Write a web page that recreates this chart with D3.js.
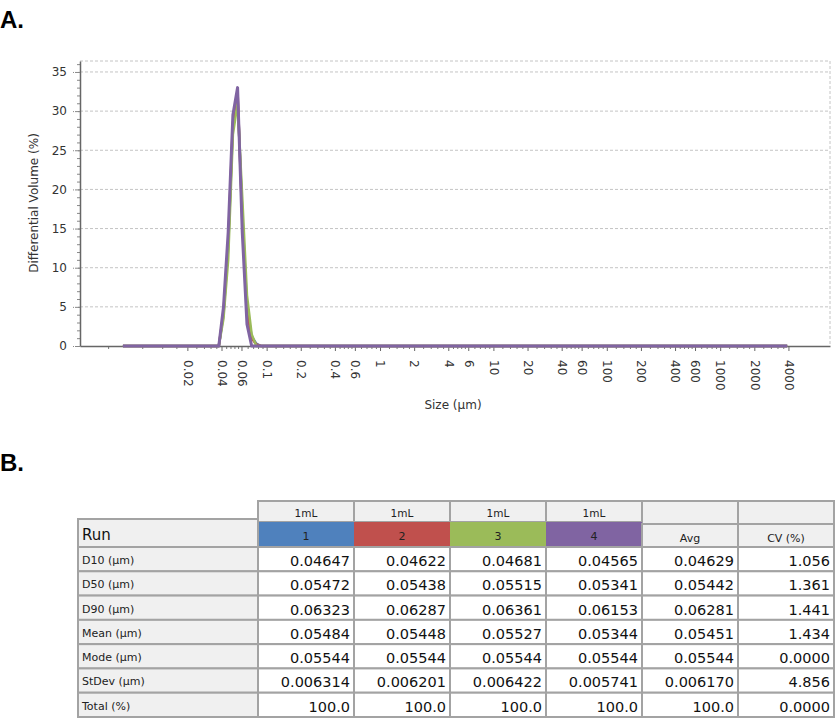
<!DOCTYPE html>
<html>
<head>
<meta charset="utf-8">
<script src="https://cdn.jsdelivr.net/npm/d3@7"></script>
<style>
  body { margin: 0; background: #fff; }
  text { font-family: "DejaVu Sans", Verdana, sans-serif; }
</style>
</head>
<body>
<script>
// size bins (µm) and differential volume (%) for each run
const sizes = [0.0054, 0.03787, 0.04165, 0.0458, 0.0504, 0.05544, 0.06098, 0.06708, 0.07379, 0.08117, 0.0893, 3900]
const run1 = [0, 0, 4.0, 12.5, 28.0, 32.0, 17.0, 5.0, 1.2, 0.3, 0, 0]
const run2 = [0, 0, 4.3, 13.0, 28.5, 32.5, 16.0, 4.5, 1.0, 0.2, 0, 0]
const run3 = [0, 0, 3.5, 11.0, 27.0, 31.0, 19.0, 6.5, 1.5, 0, 0, 0]
const run4 = [0, 0, 5.0, 14.5, 29.5, 33.0, 14.5, 2.8, 0, 0, 0, 0]
const runColors = ["#4f81bd", "#c0504d", "#9bbb59", "#8064a2"]

// axis ticks
const xLabels = [0.02, 0.04, 0.06, 0.1, 0.2, 0.4, 0.6, 1, 2, 4, 6, 10, 20, 40, 60, 100, 200, 400, 600, 1000, 2000, 4000]
const yLabels = [0, 5, 10, 15, 20, 25, 30, 35]

// table content
const tableCols = ["1", "2", "3", "4", "Avg", "CV (%)"]
const tableTop = ["1mL", "1mL", "1mL", "1mL", "", ""]
const tableRows = ["D10 (µm)", "D50 (µm)", "D90 (µm)", "Mean (µm)", "Mode (µm)", "StDev (µm)", "Total (%)"]
const d10 = ["0.04647", "0.04622", "0.04681", "0.04565", "0.04629", "1.056"]
const d50 = ["0.05472", "0.05438", "0.05515", "0.05341", "0.05442", "1.361"]
const d90 = ["0.06323", "0.06287", "0.06361", "0.06153", "0.06281", "1.441"]
const mean = ["0.05484", "0.05448", "0.05527", "0.05344", "0.05451", "1.434"]
const mode = ["0.05544", "0.05544", "0.05544", "0.05544", "0.05544", "0.0000"]
const stdev = ["0.006314", "0.006201", "0.006422", "0.005741", "0.006170", "4.856"]
const total = ["100.0", "100.0", "100.0", "100.0", "100.0", "0.0000"]
const tableValues = [d10, d50, d90, mean, mode, stdev, total]

const svg = d3.select("body")
    .append("svg")
    .attr("width", 836)
    .attr("height", 718)

// panel letters
svg.append("text").attr("x", 0).attr("y", 28).text("A.")
    .style("font-family", "Liberation Sans, Arial, sans-serif").style("font-size", "24px").style("font-weight", "bold")
svg.append("text").attr("x", 0).attr("y", 471).text("B.")
    .style("font-family", "Liberation Sans, Arial, sans-serif").style("font-size", "24px").style("font-weight", "bold")

// ---------- chart ----------
const plot = { left: 80, right: 830, top: 61, bottom: 346 }

const x = d3.scaleLog()
    .domain([0.00226, 9300])
    .range([plot.left, plot.right])
const y = d3.scaleLinear()
    .domain([0, 36.4])
    .range([plot.bottom, plot.top])

// dashed grid + top/right frame
svg.append("g")
    .selectAll("line")
    .data(yLabels.slice(1).concat([36.4]))
    .join("line")
    .attr("x1", plot.left).attr("x2", plot.right)
    .attr("y1", d => y(d)).attr("y2", d => y(d))
    .attr("stroke", "#c4c4c4")
    .attr("stroke-dasharray", "3,2")
svg.append("line")
    .attr("x1", plot.right).attr("x2", plot.right)
    .attr("y1", plot.top).attr("y2", plot.bottom)
    .attr("stroke", "#c4c4c4")
    .attr("stroke-dasharray", "3,2")

// minor x ticks: 5 steps between consecutive labels
let minorX = []
let prev = 0
xLabels.forEach(v => {
    const step = (v - prev) / 5
    for (let k = 1; k < 5; k++) minorX.push(prev + step * k)
    prev = v
})
svg.append("g")
    .attr("transform", `translate(0,${plot.bottom})`)
    .call(d3.axisBottom(x).tickValues(minorX).tickSize(3).tickSizeOuter(0).tickFormat(""))
    .call(g => g.select(".domain").remove())
    .call(g => g.selectAll("line").attr("stroke", "#777"))

// x axis with rotated labels
const xAxis = svg.append("g")
    .attr("transform", `translate(0,${plot.bottom})`)
    .call(d3.axisBottom(x).tickValues(xLabels).tickSize(5).tickSizeOuter(0).tickFormat(d => String(d)))
xAxis.select(".domain").attr("stroke", "#666").attr("stroke-width", 1.5)
xAxis.selectAll("line").attr("stroke", "#666")
xAxis.selectAll("text")
    .attr("transform", "rotate(90)")
    .attr("x", 14)
    .attr("y", 0)
    .attr("dy", "0.35em")
    .style("text-anchor", "start")
    .style("font-size", "12px")
    .attr("fill", "#333")

// minor y ticks every 1 %
svg.append("g")
    .attr("transform", `translate(${plot.left},0)`)
    .call(d3.axisLeft(y).tickValues(d3.range(0, 37, 1)).tickSize(3).tickSizeOuter(0).tickFormat(""))
    .call(g => g.select(".domain").remove())
    .call(g => g.selectAll("line").attr("stroke", "#888"))

const yAxis = svg.append("g")
    .attr("transform", `translate(${plot.left},0)`)
    .call(d3.axisLeft(y).tickValues(yLabels).tickSize(7).tickPadding(6).tickSizeOuter(0))
yAxis.select(".domain").attr("stroke", "#666").attr("stroke-width", 1.5)
yAxis.selectAll("line").attr("stroke", "#888").attr("stroke-dasharray", "2,1")
yAxis.selectAll("text").style("font-size", "12px").attr("fill", "#333")

// axis titles
svg.append("text")
    .attr("transform", "translate(38,203) rotate(-90)")
    .style("text-anchor", "middle")
    .style("font-size", "12px")
    .attr("fill", "#333")
    .text("Differential Volume (%)")
svg.append("text")
    .attr("x", 453)
    .attr("y", 409)
    .style("text-anchor", "middle")
    .style("font-size", "12px")
    .attr("fill", "#333")
    .text("Size (µm)")

// lines, purple drawn last like the original
const line = d3.line()
    .x((d, i) => x(sizes[i]))
    .y(d => y(d))
svg.append("g")
    .selectAll("path")
    .data([run1, run2, run3, run4])
    .join("path")
    .attr("d", line)
    .attr("fill", "none")
    .attr("stroke", (d, i) => runColors[i])
    .attr("stroke-width", (d, i) => i === 3 ? 3 : 2.5)
    .attr("stroke-linejoin", "round")

// ---------- table ----------
const tbl = { left: 78, labelRight: 258, right: 834, top: 501, headSplit: 522, bodyTop: 547, bottom: 717 }
const border = "#a3a3a3"

const colX = d3.scaleBand()
    .domain(tableCols)
    .range([tbl.labelRight, tbl.right])
const rowY = d3.scaleBand()
    .domain(tableRows)
    .range([tbl.bodyTop, tbl.bottom])

// header top row (1mL)
const head = svg.append("g")
head.selectAll("rect.top")
    .data(tableCols)
    .join("rect")
    .attr("class", "top")
    .attr("x", d => colX(d))
    .attr("y", tbl.top)
    .attr("width", colX.bandwidth())
    .attr("height", (d, i) => (i < 4 ? tbl.headSplit : tbl.headSplit + 2) - tbl.top)
    .attr("fill", "#f0f0f0")
    .attr("stroke", border)
    .attr("stroke-width", 2)
head.selectAll("text.top")
    .data(tableCols)
    .join("text")
    .attr("class", "top")
    .attr("x", d => colX(d) + colX.bandwidth() / 2)
    .attr("y", 517)
    .style("text-anchor", "middle")
    .style("font-size", "10.5px")
    .attr("fill", "#222")
    .text((d, i) => tableTop[i])

// header second row (run number / Avg / CV)
head.selectAll("rect.run")
    .data(tableCols)
    .join("rect")
    .attr("class", "run")
    .attr("x", d => colX(d))
    .attr("y", (d, i) => i < 4 ? tbl.headSplit : tbl.headSplit + 2)
    .attr("width", colX.bandwidth())
    .attr("height", (d, i) => tbl.bodyTop - (i < 4 ? tbl.headSplit : tbl.headSplit + 2))
    .attr("fill", (d, i) => i < 4 ? runColors[i] : "#f0f0f0")
    .attr("stroke", (d, i) => i < 4 ? "none" : border)
    .attr("stroke-width", 2)
head.selectAll("text.run")
    .data(tableCols)
    .join("text")
    .attr("class", "run")
    .attr("x", d => colX(d) + colX.bandwidth() / 2)
    .attr("y", (d, i) => i < 4 ? 540 : 542)
    .style("text-anchor", "middle")
    .style("font-size", "11px")
    .attr("fill", "#222")
    .text(d => d)

// "Run" label cell
svg.append("rect")
    .attr("x", tbl.left).attr("y", 519)
    .attr("width", tbl.labelRight - tbl.left).attr("height", tbl.bodyTop - 519)
    .attr("fill", "#f0f0f0")
    .attr("stroke", border)
    .attr("stroke-width", 2)
svg.append("text")
    .attr("x", tbl.left + 4).attr("y", 540)
    .style("font-size", "15px")
    .attr("fill", "#111")
    .text("Run")

// body rows
const rowsG = svg.append("g")
    .selectAll("g")
    .data(tableRows)
    .join("g")
    .attr("transform", d => `translate(0,${rowY(d)})`)

rowsG.append("rect")
    .attr("x", tbl.left)
    .attr("width", tbl.labelRight - tbl.left)
    .attr("height", rowY.bandwidth())
    .attr("fill", "#f0f0f0")
    .attr("stroke", border)
    .attr("stroke-width", 2)
rowsG.append("text")
    .attr("x", tbl.left + 4)
    .attr("y", 17)
    .style("font-size", "11px")
    .attr("fill", "#222")
    .text(d => d)

rowsG.each(function (rowName, r) {
    const g = d3.select(this)
    g.selectAll("rect.cell")
        .data(tableValues[r])
        .join("rect")
        .attr("class", "cell")
        .attr("x", (d, i) => colX(tableCols[i]))
        .attr("width", colX.bandwidth())
        .attr("height", rowY.bandwidth())
        .attr("fill", "#fff")
        .attr("stroke", border)
        .attr("stroke-width", 2)
    g.selectAll("text.cell")
        .data(tableValues[r])
        .join("text")
        .attr("class", "cell")
        .attr("x", (d, i) => colX(tableCols[i]) + colX.bandwidth() - 4)
        .attr("y", 19)
        .style("text-anchor", "end")
        .style("font-size", "14.5px")
        .attr("fill", "#111")
        .text(d => d)
})
</script>
</body>
</html>
